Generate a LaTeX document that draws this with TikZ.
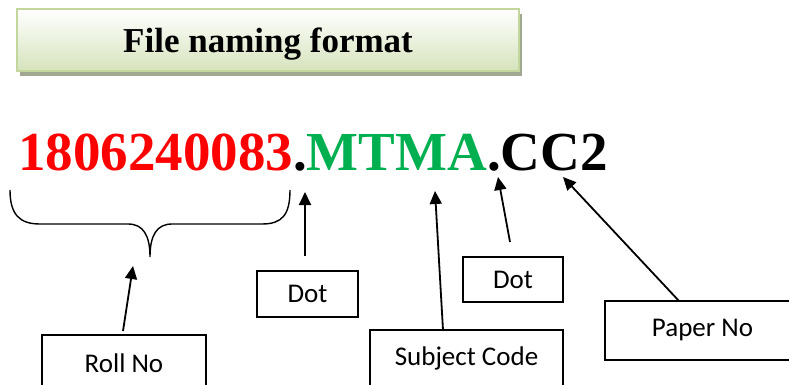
\documentclass[tikz,border=0pt]{standalone}
\usepackage{fontspec}
\setmainfont{Liberation Serif}
\newfontfamily\calibri{Carlito}
\usetikzlibrary{arrows.meta}
\definecolor{rollred}{RGB}{255,0,0}
\definecolor{subjgreen}{RGB}{0,176,80}
\definecolor{titleborder}{RGB}{195,214,155}
\definecolor{titlebottom}{RGB}{214,227,188}
\definecolor{titleshadow}{RGB}{160,168,146}
\tikzset{
  labelbox/.style={draw=black, line width=1.3pt, inner sep=0pt, font=\calibri\fontsize{27}{32}\selectfont},
  pointer/.style={line width=1.8pt, -{Triangle[length=13pt,width=12pt]}},
  bracepath/.style={line width=1.4pt},
}
\begin{document}
\begin{tikzpicture}[x=1pt,y=-1pt]
\useasboundingbox (0,0) rectangle (789,385);
% title box
\fill[titleshadow] (20,14) rectangle (522,76);
\shade[top color=white, bottom color=titlebottom, draw=titleborder, line width=2pt] (17,9) rectangle (519,71);
\node[anchor=base, inner sep=0pt, font=\bfseries\fontsize{35}{40}\selectfont] (title) at (268,53) {File naming format};
% file name
\node[anchor=base, inner sep=0pt, font=\bfseries\fontsize{55}{60}\selectfont] (fname) at (313,170)
  {\textcolor{rollred}{1806240083}.\textcolor{subjgreen}{MTMA}.CC2};
% brace
\draw[bracepath] (10,190) .. controls (10,215) and (20,224) .. (40,224) -- (128,224)
  .. controls (143,224) and (150,235) .. (150,257)
  .. controls (150,235) and (157,224) .. (172,224) -- (262,224)
  .. controls (282,224) and (290,215) .. (290,190);
% boxes
\node[labelbox, minimum width=164pt, minimum height=56pt] (roll) at (124,363) {Roll No};
\node[labelbox, minimum width=101pt, minimum height=46pt] (dotA) at (307.5,294) {Dot};
\node[labelbox, minimum width=193pt, minimum height=56pt] (subj) at (466.5,358) {Subject Code};
\node[labelbox, minimum width=100pt, minimum height=45pt] (dotB) at (513,279.5) {Dot};
\node[labelbox, minimum width=195pt, minimum height=59pt] (paper) at (702.5,330.5) {Paper No};
% arrow coordinates
\coordinate (rollT) at (123,331);
\coordinate (rollH) at (133,266);
\coordinate (dotAT) at (305,256);
\coordinate (dotAH) at (305,192);
\coordinate (subjT) at (443,330);
\coordinate (subjH) at (435,191);
\coordinate (dotBT) at (510,242);
\coordinate (dotBH) at (498,177);
\coordinate (paperT) at (679,301);
\coordinate (paperH) at (563,177);
\draw[pointer] (rollT) -- (rollH);
\draw[pointer] (dotAT) -- (dotAH);
\draw[pointer] (subjT) -- (subjH);
\draw[pointer] (dotBT) -- (dotBH);
\draw[pointer] (paperT) -- (paperH);
\end{tikzpicture}
\end{document}
